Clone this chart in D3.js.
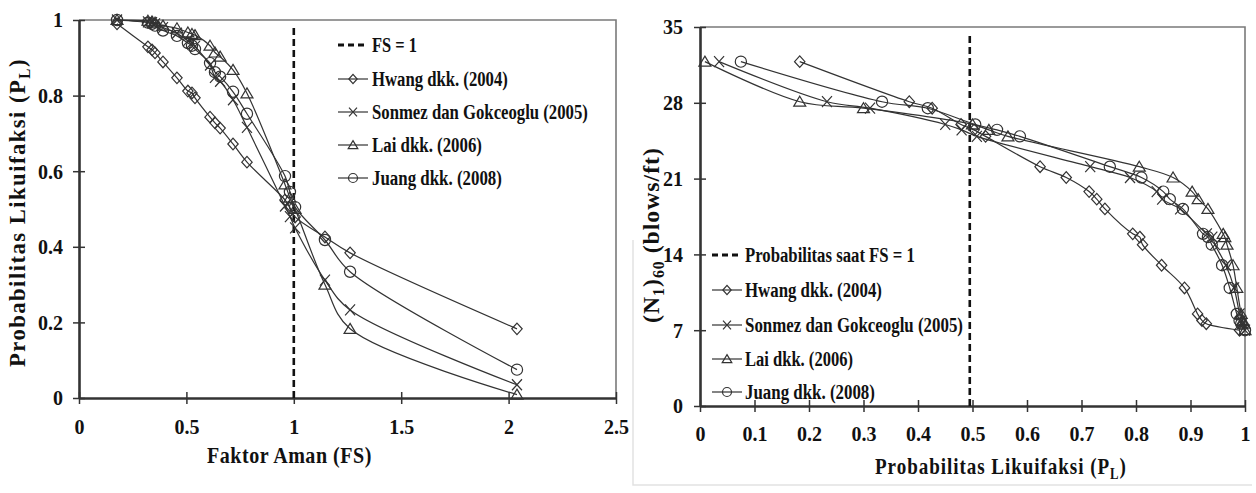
<!DOCTYPE html>
<html>
<head>
<meta charset="utf-8">
<script src="https://cdn.jsdelivr.net/npm/d3@7"></script>
<style>
  html, body { margin: 0; padding: 0; background: #fff; }
  svg { display: block; }
</style>
</head>
<body>
<svg id="chart" width="1256" height="493"></svg>
<script>
// ---- data (one entry per soil layer, ordered by FS / (N1)60) ----
const fsValues   = [0.177,0.321,0.340,0.354,0.391,0.456,0.507,0.526,0.540,0.610,0.633,0.657,0.717,0.782,0.959,0.982,1.006,1.145,1.262,2.039];
const n160Values = [7.0,7.6,7.9,8.5,10.9,13.0,14.9,15.6,15.9,18.2,19.1,19.8,21.1,22.1,24.9,25.5,26.0,27.5,28.1,31.8];
const plHwang    = [0.99,0.929,0.921,0.913,0.889,0.847,0.812,0.807,0.794,0.743,0.728,0.714,0.672,0.624,0.524,0.503,0.479,0.426,0.384,0.183];
const plSonmez   = [1.0,0.995,0.993,0.99,0.98,0.965,0.945,0.94,0.93,0.881,0.848,0.838,0.789,0.716,0.508,0.48,0.45,0.312,0.233,0.035];
const plLai      = [1.0,0.998,0.996,0.993,0.985,0.978,0.967,0.963,0.96,0.932,0.914,0.903,0.868,0.806,0.565,0.53,0.50,0.30,0.183,0.009];
const plJuang    = [1.0,0.993,0.99,0.985,0.972,0.958,0.939,0.932,0.923,0.886,0.862,0.85,0.81,0.752,0.587,0.545,0.505,0.418,0.334,0.075];

const seriesNames = ["Hwang dkk. (2004)", "Sonmez dan Gokceoglu (2005)", "Lai dkk. (2006)", "Juang dkk. (2008)"];
const seriesShapes = ["diamond", "x", "triangle", "circle"];
const seriesPL = [plHwang, plSonmez, plLai, plJuang];

const leftXTicks  = [0, 0.5, 1, 1.5, 2, 2.5];
const leftYTicks  = [0, 0.2, 0.4, 0.6, 0.8, 1];
const rightXTicks = [0, 0.1, 0.2, 0.3, 0.4, 0.5, 0.6, 0.7, 0.8, 0.9, 1];
const rightYTicks = [0, 7, 14, 21, 28, 35];
const fsOne = 1;          // FS = 1 reference
const plAtFsOne = 0.495;  // probability at FS = 1

// ---- setup ----
const FONT = '"Liberation Serif", "Times New Roman", serif';
const svg = d3.select("#chart");
const INK = "#333";
const fmt = d3.format("~g");

function shapePath(type, s) {
  if (type === "diamond") return `M0,${-5.8*s}L${5.2*s},0L0,${5.8*s}L${-5.2*s},0Z`;
  if (type === "triangle") return `M0,${-5.5*s}L${6*s},${4.5*s}L${-6*s},${4.5*s}Z`;
  if (type === "x") return `M${-5*s},${-5.5*s}L${5*s},${5.5*s}M${-5*s},${5.5*s}L${5*s},${-5.5*s}`;
  const r = 5.6*s;
  return `M${r},0A${r},${r},0,1,1,${-r},0A${r},${r},0,1,1,${r},0Z`;
}

// text starting at (x,y) (baseline), horizontally squeezed to a given width
function fitText(g, x, y, size, width, rotate, build, spacing) {
  const t = g.append("text").attr("text-anchor", "start")
    .style("font-family", FONT).style("font-weight", "bold").style("font-size", size + "px")
    .style("letter-spacing", (spacing || 0) + "px").attr("fill", "#111");
  build(t);
  const w = t.node().getBBox().width;
  const k = width / w;
  t.attr("transform", `translate(${x},${y})` + (rotate ? " rotate(-90)" : "") + ` scale(${k},1)`);
  return t;
}
const plain = s => t => t.text(s);
const withSub = (pre, sub, post) => t => {
  t.append("tspan").text(pre);
  t.append("tspan").text(sub).style("font-size", "16px").attr("dy", 5);
  t.append("tspan").text(post).attr("dy", -5);
};

function drawPanel(opts) {
  const g = svg.append("g");
  const { x, y, xTicks, yTicks } = opts;
  const [x0, x1] = x.range();
  const [y0, y1] = y.range();
  g.append("path").attr("d", `M${x0},${y1}H${x1}V${y0}`)
    .attr("fill", "none").attr("stroke", "#7a7a7a").attr("stroke-width", 1.6);
  const ax = g.append("g").attr("transform", `translate(0,${y0})`)
    .call(d3.axisBottom(x).tickValues(xTicks).tickFormat(fmt).tickSizeOuter(0));
  ax.selectAll(".tick line").attr("y1", -6).attr("y2", 6).attr("stroke", INK).attr("stroke-width", 1.5);
  ax.selectAll(".tick text").attr("y", opts.xLabelDy).attr("dy", 0).style("font-size", "20px");
  ax.select(".domain").attr("stroke", INK).attr("stroke-width", 2.6);
  const ay = g.append("g").attr("transform", `translate(${x0},0)`)
    .call(d3.axisLeft(y).tickValues(yTicks).tickFormat(fmt).tickSizeOuter(0));
  ay.selectAll(".tick line").attr("x1", -6).attr("x2", 6).attr("stroke", INK).attr("stroke-width", 1.5);
  ay.selectAll(".tick text").attr("x", -opts.yLabelGap).attr("dy", "0.34em").style("font-size", "20px");
  ay.select(".domain").attr("stroke", INK).attr("stroke-width", 2.6);
  g.selectAll("text").style("font-family", FONT).style("font-weight", "bold").attr("fill", "#111");
  return g;
}

// ================= LEFT PANEL =================
const xL = d3.scaleLinear([0, 2.5], [79, 616]);
const yL = d3.scaleLinear([0, 1], [398, 20]);
const gL = drawPanel({ x: xL, y: yL, xTicks: leftXTicks, yTicks: leftYTicks, xLabelDy: 36, yLabelGap: 16 });

gL.append("line").attr("x1", xL(fsOne)).attr("x2", xL(fsOne)).attr("y1", yL(0)).attr("y2", yL(0.985))
  .attr("stroke", "#111").attr("stroke-width", 2.6).attr("stroke-dasharray", "7,4");

const lineL = d3.line().curve(d3.curveCatmullRom.alpha(0.5)).x(d => xL(d[0])).y(d => yL(d[1]));
seriesPL.forEach((pl, i) => {
  const pts = fsValues.map((f, j) => [f, pl[j]]);
  gL.append("path").attr("d", lineL(pts)).attr("fill", "none").attr("stroke", INK).attr("stroke-width", 1.2);
  gL.selectAll(null).data(pts).join("path")
    .attr("transform", d => `translate(${xL(d[0])},${yL(d[1])})`)
    .attr("d", shapePath(seriesShapes[i], 1)).attr("fill", "none").attr("stroke", INK).attr("stroke-width", 1.2);
});

// left legend
const legL = svg.append("g");
const legLY = [45, 79, 112, 145, 178];
const legLW = [45, 136, 216, 110, 130];
legL.append("line").attr("x1", 338).attr("x2", 368).attr("y1", legLY[0]).attr("y2", legLY[0])
  .attr("stroke", "#111").attr("stroke-width", 3).attr("stroke-dasharray", "6,4");
fitText(legL, 372, legLY[0] + 7, 20, legLW[0], false, plain("FS = 1"));
seriesNames.forEach((name, i) => {
  const yy = legLY[i + 1];
  legL.append("line").attr("x1", 338).attr("x2", 368).attr("y1", yy).attr("y2", yy).attr("stroke", INK).attr("stroke-width", 1.2);
  legL.append("path").attr("transform", `translate(353,${yy})`).attr("d", shapePath(seriesShapes[i], 0.8))
    .attr("fill", "none").attr("stroke", INK).attr("stroke-width", 1.2);
  fitText(legL, 372, yy + 7, 20, legLW[i + 1], false, plain(name));
});

// left axis titles
fitText(svg, 25, 367, 24, 309, true, withSub("Probabilitas Likuifaksi (P", "L", ")"), 1.6);
fitText(svg, 207, 463, 24, 165, false, plain("Faktor Aman (FS)"), 0.6);

// ================= RIGHT PANEL =================
const xR = d3.scaleLinear([0, 1], [700, 1245]);
const yR = d3.scaleLinear([0, 35], [406, 27]);
svg.append("path").attr("d", "M633,240V485H1252").attr("fill", "none").attr("stroke", "#e2e2e2").attr("stroke-width", 1.5);
const gR = drawPanel({ x: xR, y: yR, xTicks: rightXTicks, yTicks: rightYTicks, xLabelDy: 35, yLabelGap: 17 });

gR.append("line").attr("x1", xR(plAtFsOne)).attr("x2", xR(plAtFsOne)).attr("y1", yR(0)).attr("y2", yR(34.3))
  .attr("stroke", "#111").attr("stroke-width", 2.6).attr("stroke-dasharray", "7,4");

const lineR = d3.line().curve(d3.curveCatmullRom.alpha(0.5)).x(d => xR(d[0])).y(d => yR(d[1]));
seriesPL.forEach((pl, i) => {
  const pts = n160Values.map((n, j) => [pl[j], n]);
  gR.append("path").attr("d", lineR(pts)).attr("fill", "none").attr("stroke", INK).attr("stroke-width", 1.2);
  gR.selectAll(null).data(pts).join("path")
    .attr("transform", d => `translate(${xR(d[0])},${yR(d[1])})`)
    .attr("d", shapePath(seriesShapes[i], 1)).attr("fill", "none").attr("stroke", INK).attr("stroke-width", 1.2);
});

// right legend
const legR = svg.append("g");
const legRY = [255, 290, 325, 359, 392];
const legRW = [170, 137, 218, 108, 130];
legR.append("line").attr("x1", 712).attr("x2", 742).attr("y1", legRY[0]).attr("y2", legRY[0])
  .attr("stroke", "#111").attr("stroke-width", 3).attr("stroke-dasharray", "6,4");
fitText(legR, 745, legRY[0] + 7, 20, legRW[0], false, plain("Probabilitas saat FS = 1"));
seriesNames.forEach((name, i) => {
  const yy = legRY[i + 1];
  legR.append("line").attr("x1", 712).attr("x2", 742).attr("y1", yy).attr("y2", yy).attr("stroke", INK).attr("stroke-width", 1.2);
  legR.append("path").attr("transform", `translate(727,${yy})`).attr("d", shapePath(seriesShapes[i], 0.8))
    .attr("fill", "none").attr("stroke", INK).attr("stroke-width", 1.2);
  fitText(legR, 745, yy + 7, 20, legRW[i + 1], false, plain(name));
});

// right axis titles
fitText(svg, 659, 323, 24, 176, true, t => {
  t.append("tspan").text("(N");
  t.append("tspan").text("1").style("font-size", "16px").attr("dy", 5);
  t.append("tspan").text(")").attr("dy", -5);
  t.append("tspan").text("60").style("font-size", "16px").attr("dy", 5);
  t.append("tspan").text(" (blows/ft)").attr("dy", -5);
}, 1);
fitText(svg, 875, 474, 24, 252, false, withSub("Probabilitas Likuifaksi (P", "L", ")"), 1.2);
</script>
</body>
</html>
